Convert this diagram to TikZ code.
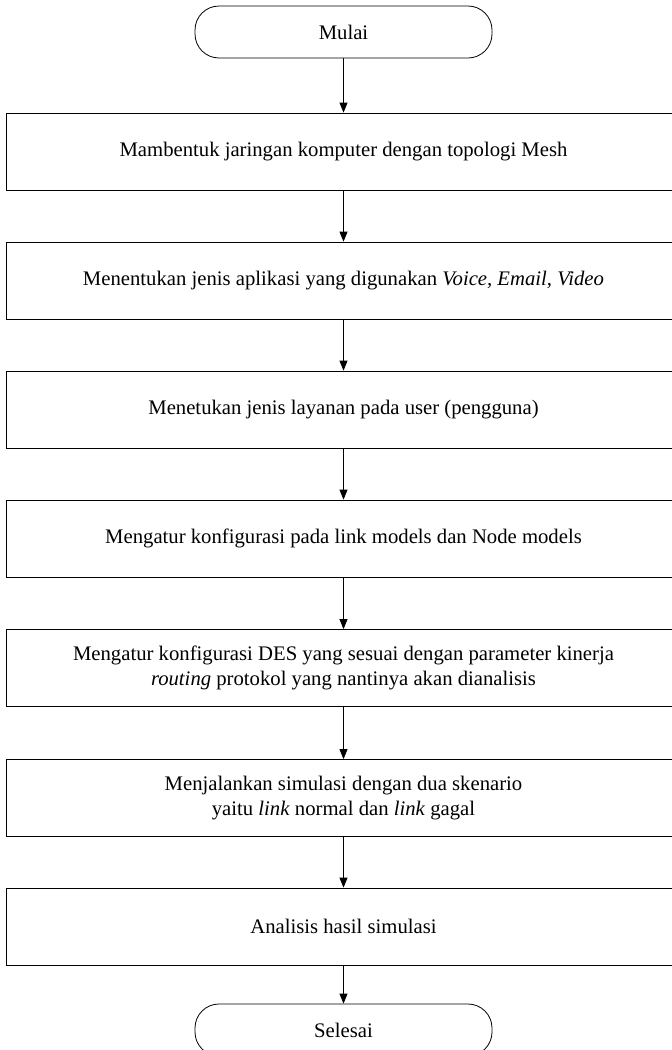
\documentclass[tikz,border=0pt]{standalone}
\usepackage{fontspec}
\setmainfont{Liberation Serif}
\usetikzlibrary{arrows.meta}
\begin{document}
\begin{tikzpicture}[x=1pt,y=1pt,
  every node/.style={font=\fontsize{20.7}{25.5}\selectfont},
  term/.style={draw, line width=0.8pt, rounded corners=24pt, minimum width=297pt, minimum height=52pt, inner sep=0pt},
  stepbox/.style={draw, line width=0.8pt, minimum width=675pt, minimum height=77pt, align=center, inner sep=0pt},
  arr/.style={draw, line width=0.8pt, -{Triangle[length=10pt,width=8pt]}}]
\useasboundingbox (0,0) rectangle (672,-1050);
\clip (0,0) rectangle (672,-1050);
\node[term] (start) at (343.5,-32) {Mulai};
\node[stepbox] (b1) at (343.5,-151.5) {Mambentuk jaringan komputer dengan topologi Mesh};
\node[stepbox] (b2) at (343.5,-280.5) {Menentukan jenis aplikasi yang digunakan \textit{Voice, Email, Video}};
\node[stepbox] (b3) at (343.5,-409.5) {Menetukan jenis layanan pada user (pengguna)};
\node[stepbox] (b4) at (343.5,-538.5) {Mengatur konfigurasi pada link models dan Node models};
\node[stepbox] (b5) at (343.5,-668) {Mengatur konfigurasi DES yang sesuai dengan parameter kinerja\\\textit{routing} protokol yang nantinya akan dianalisis};
\node[stepbox] (b6) at (343.5,-798) {Menjalankan simulasi dengan dua skenario\\yaitu \textit{link} normal dan \textit{link} gagal};
\node[stepbox] (b7) at (343.5,-926.5) {Analisis hasil simulasi};
\node[term] (end) at (343.5,-1030) {Selesai};
\draw[arr] (start) -- (b1);
\draw[arr] (b1) -- (b2);
\draw[arr] (b2) -- (b3);
\draw[arr] (b3) -- (b4);
\draw[arr] (b4) -- (b5);
\draw[arr] (b5) -- (b6);
\draw[arr] (b6) -- (b7);
\draw[arr] (b7) -- (end);
\end{tikzpicture}
\end{document}
